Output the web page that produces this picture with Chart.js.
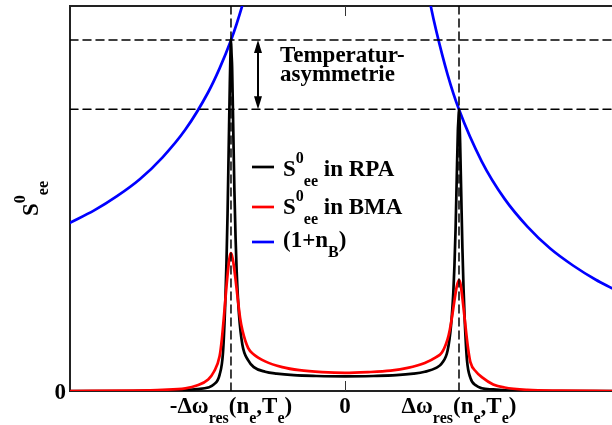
<!DOCTYPE html>
<html>
<head>
<meta charset="utf-8">
<script src="https://cdn.jsdelivr.net/npm/chart.js@4"></script>
<style>
html,body{margin:0;padding:0;background:#fff;overflow:hidden;}
canvas{display:block;}
</style>
</head>
<body>
<canvas id="c" width="612" height="425"></canvas>
<script>
// ---- data (x in units of Δω_res, y in units of the frame height) ----
const rpaX = [-2.412,-2.0,-1.7,-1.5,-1.4,-1.3,-1.2,-1.15,-1.1,-1.07,-1.05,-1.04,-1.03,-1.02,-1.01,-1.005,-1.0,-0.995,-0.99,-0.98,-0.97,-0.96,-0.95,-0.93,-0.9,-0.85,-0.8,-0.7,-0.6,-0.45,-0.25,0,
  0.25,0.45,0.6,0.7,0.8,0.85,0.9,0.93,0.95,0.96,0.97,0.98,0.99,0.995,1.0,1.005,1.01,1.02,1.03,1.04,1.05,1.07,1.1,1.15,1.2,1.3,1.4,1.6,1.8,2.342];
const rpaY = [0,0,0.001,0.002,0.003,0.005,0.009,0.017,0.042,0.1,0.23,0.33,0.46,0.63,0.8,0.87,0.912,0.875,0.84,0.68,0.52,0.4,0.31,0.2,0.12,0.08,0.062,0.05,0.045,0.041,0.039,0.038,
  0.039,0.041,0.045,0.05,0.06,0.072,0.105,0.17,0.255,0.325,0.42,0.55,0.675,0.705,0.732,0.7,0.645,0.505,0.37,0.265,0.185,0.08,0.034,0.014,0.007,0.004,0.002,0.001,0,0];

const bmaX = [-2.412,-1.9,-1.6,-1.4,-1.3,-1.2,-1.15,-1.1,-1.08,-1.06,-1.04,-1.02,-1.01,-1.0,-0.99,-0.98,-0.96,-0.94,-0.92,-0.9,-0.85,-0.8,-0.7,-0.55,-0.4,-0.2,0,
  0.2,0.4,0.55,0.7,0.8,0.85,0.9,0.92,0.94,0.96,0.98,0.99,1.0,1.01,1.02,1.04,1.06,1.08,1.1,1.15,1.2,1.3,1.4,1.6,1.9,2.342];
const bmaY = [0,0.001,0.003,0.007,0.014,0.03,0.05,0.09,0.135,0.2,0.27,0.33,0.35,0.358,0.35,0.335,0.29,0.238,0.19,0.158,0.112,0.095,0.077,0.062,0.054,0.049,0.047,
  0.049,0.053,0.06,0.073,0.088,0.1,0.135,0.16,0.195,0.235,0.271,0.282,0.288,0.282,0.265,0.215,0.16,0.11,0.075,0.05,0.036,0.017,0.009,0.003,0.001,0];

const boseX = [-2.412,-2.2,-2.0,-1.8,-1.6,-1.4,-1.2,-1.1,-1.0,-0.95,-0.9,-0.85,-0.8,0,
  0.65,0.7,0.75,0.8,0.9,1.0,1.2,1.4,1.6,1.8,2.0,2.2,2.342];
const boseY = [0.437,0.469,0.506,0.550,0.607,0.679,0.776,0.838,0.911,0.954,1.002,1.055,1.115,null,
  1.171,1.081,1.003,0.936,0.822,0.731,0.596,0.499,0.427,0.370,0.326,0.289,0.267];

const resonances = [-1, 1];          // dashed verticals at ±Δω_res
const peakLevels = [0.912, 0.732];   // dashed horizontals (peak heights)
const tickValues = [-1, 0, 1];
const tickLabels = [
  [["-Δω","m"],["res","s"],["(n","m"],["e","s"],[",T","m"],["e","s"],[")","m"]],
  [["0","m"]],
  [["Δω","m"],["res","s"],["(n","m"],["e","s"],[",T","m"],["e","s"],[")","m"]]
];
const seriesNames = [
  [["S","m"],["0","p"],["ee","s"],[" in RPA","m"]],
  [["S","m"],["0","p"],["ee","s"],[" in BMA","m"]],
  [["(1+n","m"],["B","s"],[")","m"]]
];
const seriesColors = ["#000000", "#ff0000", "#0000ff"];
const yTitle = [["S","m"],["0","p"],["ee","s"]];
const annotationLines = ["Temperatur-", "asymmetrie"];

// ---- build datasets ----
const pts = (xs, ys) => xs.map((x, i) => ({x: x, y: ys[i]}));
const X_MIN = -2.412, X_MAX = 2.342;
const datasets = [
  {label:'RPA', data: pts(rpaX, rpaY), borderColor: seriesColors[0], borderWidth: 2.7, order: 1},
  {label:'BMA', data: pts(bmaX, bmaY), borderColor: seriesColors[1], borderWidth: 2.7, order: 0},
  {label:'Bose', data: pts(boseX, boseY), borderColor: seriesColors[2], borderWidth: 2.7, order: 2, spanGaps: false}
];
resonances.forEach(r => datasets.push({label:'v', data:[{x:r,y:0},{x:r,y:1}], borderColor:'#000', borderWidth:1.5, borderDash:[8,5], order:-1, cubicInterpolationMode:'default', tension:0}));
peakLevels.forEach(l => datasets.push({label:'h', data:[{x:X_MIN,y:l},{x:X_MAX,y:l}], borderColor:'#000', borderWidth:1.5, borderDash:[8,5], order:-1, cubicInterpolationMode:'default', tension:0}));

const FONT = '"Liberation Serif","DejaVu Serif",serif';
const fMain = 'bold 23px ' + FONT;
const fSmall = 'bold 16px ' + FONT;

function richWidth(ctx, parts){
  let w = 0;
  parts.forEach(p => { ctx.font = p[1]==='m' ? fMain : fSmall; w += ctx.measureText(p[0]).width; });
  return w;
}
function drawRich(ctx, parts, x, y){
  let cx = x;
  parts.forEach(p => {
    ctx.font = p[1]==='m' ? fMain : fSmall;
    let dy = 0;
    if (p[1]==='s') dy = 10;
    if (p[1]==='p') dy = -13;
    ctx.fillText(p[0], cx, y + dy);
    cx += ctx.measureText(p[0]).width;
  });
}

const decor = {
  id: 'decor',
  afterDraw(chart){
    const ctx = chart.ctx;
    const xs = chart.scales.x, ys = chart.scales.y;
    ctx.save();
    ctx.fillStyle = '#000';
    ctx.textBaseline = 'alphabetic';
    ctx.textAlign = 'left';
    // inner tick marks at 0
    ctx.strokeStyle = '#333';
    ctx.lineWidth = 1;
    const x0 = Math.round(xs.getPixelForValue(0)) + 0.5;
    ctx.beginPath();
    ctx.moveTo(x0, ys.bottom); ctx.lineTo(x0, ys.bottom - 10);
    ctx.moveTo(x0, ys.top); ctx.lineTo(x0, ys.top + 10);
    ctx.stroke();
    // x tick labels
    tickValues.forEach((v, i) => {
      const w = richWidth(ctx, tickLabels[i]);
      drawRich(ctx, tickLabels[i], xs.getPixelForValue(v) - w/2, 413);
    });
    // y tick label
    ctx.font = fMain;
    ctx.textAlign = 'right';
    ctx.fillText('0', 66, ys.getPixelForValue(0) + 8);
    ctx.textAlign = 'left';
    // y title
    ctx.save();
    ctx.translate(38, 216);
    ctx.rotate(-Math.PI/2);
    drawRich(ctx, yTitle, 0, 0);
    ctx.restore();
    // legend
    const rows = [[167,176],[207,214],[242,247]];
    seriesNames.forEach((parts, i) => {
      ctx.strokeStyle = seriesColors[i];
      ctx.lineWidth = 2.7;
      ctx.beginPath();
      ctx.moveTo(252, rows[i][0]); ctx.lineTo(274, rows[i][0]);
      ctx.stroke();
      drawRich(ctx, parts, 283, rows[i][1]);
    });
    // annotation
    ctx.font = fMain;
    ctx.fillText(annotationLines[0], 280, 62);
    ctx.fillText(annotationLines[1], 280, 81);
    // double arrow
    const ya = ys.getPixelForValue(peakLevels[0]), yb = ys.getPixelForValue(peakLevels[1]);
    const ax = 258;
    ctx.strokeStyle = '#000';
    ctx.lineWidth = 2;
    ctx.beginPath(); ctx.moveTo(ax, ya + 8); ctx.lineTo(ax, yb - 8); ctx.stroke();
    ctx.beginPath(); ctx.moveTo(ax, ya); ctx.lineTo(ax - 4, ya + 13); ctx.lineTo(ax + 4, ya + 13); ctx.closePath(); ctx.fill();
    ctx.beginPath(); ctx.moveTo(ax, yb); ctx.lineTo(ax - 4, yb - 13); ctx.lineTo(ax + 4, yb - 13); ctx.closePath(); ctx.fill();
    ctx.restore();
  }
};

const axisCommon = {
  type: 'linear', min: X_MIN, max: X_MAX,
  ticks: {display: false},
  grid: {display: false, drawTicks: false},
  border: {display: true, color: '#222', width: 2},
  afterFit(s){ s.height = 0; }
};

new Chart(document.getElementById('c'), {
  type: 'line',
  data: {datasets: datasets},
  options: {
    responsive: false,
    animation: false,
    parsing: true,
    layout: {padding: {left: 70, top: 6, right: 0, bottom: 34}},
    elements: {point: {radius: 0}, line: {cubicInterpolationMode: 'monotone', borderCapStyle: 'round', borderJoinStyle: 'round'}},
    plugins: {legend: {display: false}, tooltip: {enabled: false}},
    scales: {
      x: Object.assign({}, axisCommon, {position: 'bottom'}),
      x2: Object.assign({}, axisCommon, {position: 'top'}),
      y: {
        type: 'linear', min: 0, max: 1,
        ticks: {display: false},
        grid: {display: false, drawTicks: false},
        border: {display: true, color: '#222', width: 2},
        afterFit(s){ s.width = 0; }
      }
    }
  },
  plugins: [decor]
});
</script>
</body>
</html>
